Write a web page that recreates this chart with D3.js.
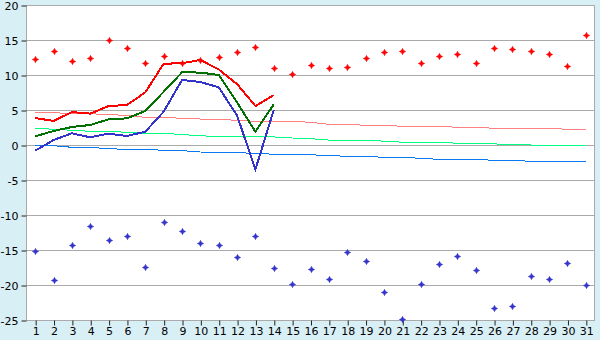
<!DOCTYPE html>
<html><head><meta charset="utf-8">
<script src="https://cdn.jsdelivr.net/npm/d3@7"></script>
<style>
html,body{margin:0;padding:0;background:#d9eff6;}
svg{display:block;}
text{font-family:"DejaVu Sans",Verdana,sans-serif;font-size:11px;fill:#000;}
</style></head>
<body>
<svg id="c" width="600" height="340"></svg>
<script>
const days = d3.range(1, 32);
const yTicks = [-25, -20, -15, -10, -5, 0, 5, 10, 15, 20];

// thick lines (days 1-14)
const redLine   = [3.86, 3.43, 4.71, 4.48, 5.57, 5.71, 7.52, 11.62, 11.67, 12.15, 10.8, 8.7, 5.57, 7.14];
const greenLine = [1.24, 2.0, 2.57, 2.86, 3.67, 3.81, 4.86, 7.6, 10.38, 10.35, 10.0, 6.1, 1.9, 5.81];
const blueLine  = [-0.81, 0.71, 1.67, 1.1, 1.62, 1.29, 1.9, 4.76, 9.29, 9.0, 8.24, 4.2, -3.48, 5.0];

// thin normal lines (days 1-31)
const pinkNorm  = [4.67, 4.6, 4.52, 4.45, 4.38, 4.2, 3.96, 3.96, 3.8, 3.71, 3.71, 3.5, 3.38, 3.38, 3.38, 3.24, 2.96, 2.96, 2.81, 2.81, 2.67, 2.67, 2.67, 2.53, 2.53, 2.39, 2.39, 2.39, 2.39, 2.24, 2.24];
const greenNorm = [2.4, 2.25, 2.1, 1.96, 1.96, 1.81, 1.67, 1.67, 1.5, 1.3, 1.25, 1.25, 1.2, 1.15, 1.0, 0.9, 0.7, 0.7, 0.7, 0.55, 0.4, 0.4, 0.4, 0.25, 0.25, 0.15, 0.1, 0.0, 0.0, 0.0, 0.0];
const blueNorm  = [-0.1, -0.1, -0.33, -0.33, -0.53, -0.62, -0.62, -0.76, -0.8, -1.0, -1.05, -1.05, -1.25, -1.3, -1.33, -1.4, -1.5, -1.62, -1.62, -1.76, -1.76, -1.9, -2.05, -2.05, -2.05, -2.19, -2.19, -2.33, -2.33, -2.33, -2.33];

// markers
const redDots  = [12.24, 13.4, 11.95, 12.38, 14.95, 13.8, 11.67, 12.67, 11.67, 12.1, 12.52, 13.24, 13.95, 10.95, 10.1, 11.43, 10.95, 11.1, 12.38, 13.24, 13.38, 11.67, 12.67, 12.95, 11.67, 13.8, 13.67, 13.38, 12.95, 11.24, 15.67];
const blueDots = [-15.19, -19.33, -14.33, -11.62, -13.62, -13.05, -17.48, -11.05, -12.33, -14.05, -14.33, -16.05, -13.05, -17.62, -19.9, -17.76, -19.19, -15.33, -16.62, -21.05, -24.86, -19.9, -17.05, -15.9, -17.9, -23.33, -23.05, -18.76, -19.19, -16.9, -20.05];

const svg = d3.select("#c");
const L = 26, R = 595, T = 5, B = 320;
const x = d3.scaleLinear().domain([0.5, 31.5]).range([L, R]);
const y = d3.scaleLinear().domain([-25, 20]).range([B, T]);

svg.append("rect").attr("x", L).attr("y", T).attr("width", R - L).attr("height", B - T)
  .attr("fill", "#fff");

// grid
svg.append("g").selectAll("line").data(yTicks).join("line")
  .attr("x1", L).attr("x2", R)
  .attr("y1", d => Math.round(y(d)) + 0.5).attr("y2", d => Math.round(y(d)) + 0.5)
  .attr("stroke", "#aaaaaa").attr("stroke-width", 1);

svg.append("rect").attr("x", L + 0.5).attr("y", T + 0.5).attr("width", R - L - 1).attr("height", B - T)
  .attr("fill", "none").attr("stroke", "#aaaaaa");

// axes
const yAxis = d3.axisLeft(y).tickValues(yTicks).tickSize(5).tickPadding(3).tickFormat(d => d);
const gy = svg.append("g").attr("transform", `translate(${L + 0.5},0.5)`).call(yAxis);
gy.select(".domain").remove();
gy.selectAll(".tick line").attr("stroke", "#222");

const xAxis = d3.axisBottom(x).tickValues(days).tickSize(5).tickPadding(2).tickFormat(d => d);
const gx = svg.append("g").attr("transform", `translate(0.5,${B + 0.5})`).call(xAxis);
gx.select(".domain").remove();
gx.selectAll(".tick line").attr("stroke", "#222");
svg.selectAll(".tick text").style("font-family", '"DejaVu Sans",Verdana,sans-serif').style("font-size", "11px").attr("fill", "#000");

const line = d3.line().x((d, i) => x(i + 1)).y(d => y(d));

function drawLine(data, color, w) {
  svg.append("path").datum(data).attr("d", line)
    .attr("fill", "none").attr("stroke", color).attr("stroke-width", w)
    .attr("shape-rendering", "crispEdges");
}
drawLine(pinkNorm, "#ff8080", 1);
drawLine(greenNorm, "#00ff80", 1);
drawLine(blueNorm, "#0a78f0", 1);
drawLine(redLine, "#ff0000", 2);
drawLine(greenLine, "#007000", 2);
drawLine(blueLine, "#3333cc", 2);

function drawDots(data, color) {
  svg.append("g").selectAll("path").data(data).join("path")
    .attr("transform", (d, i) => `translate(${Math.round(x(i + 1)) + 0.5},${Math.round(y(d)) + 0.5})`)
    .attr("d", "M0,-3L1,-1L3,0L1,1L0,3L-1,1L-3,0L-1,-1Z")
    .attr("stroke", color).attr("stroke-width", 0.8)
    .attr("fill", color);
}
drawDots(redDots, "#ff0000");
drawDots(blueDots, "#3333cc");
</script>
</body></html>
